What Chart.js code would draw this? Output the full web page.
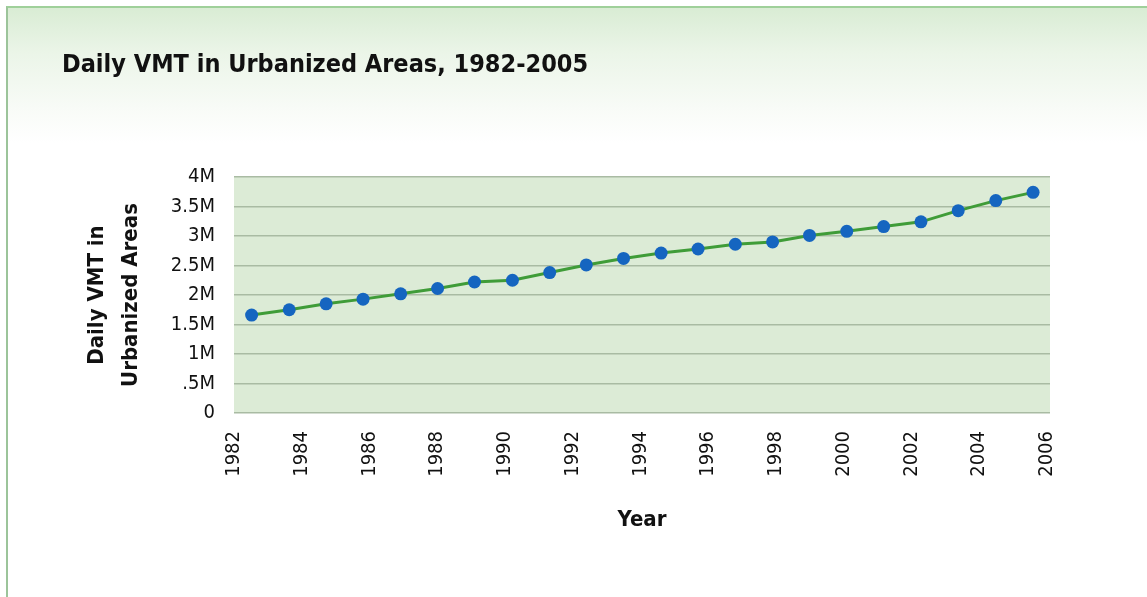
<!DOCTYPE html>
<html>
<head>
<meta charset="utf-8">
<title>Daily VMT in Urbanized Areas, 1982-2005</title>
<script src="https://cdn.jsdelivr.net/npm/chart.js@4"></script>
<style>
  html, body { margin: 0; padding: 0; background: #fff; }
  .card {
    position: relative;
    width: 1147px;
    height: 597px;
    overflow: hidden;
    background: #fff;
  }
  .card::before {
    content: '';
    position: absolute;
    left: 6px; top: 6px; right: -10px; bottom: -10px;
    border-top: 2px solid #9fd09a;
    border-left: 2px solid #9cc49a;
    background: linear-gradient(to bottom, #d9ecd4 0px, #ebf5e8 45px, #f8fbf7 100px, #ffffff 135px);
  }
  #vmtChart { position: absolute; left: 0; top: 0; }
</style>
</head>
<body>
<div class="card">
  <canvas id="vmtChart" width="1147" height="597"></canvas>
</div>
<script>
// years on the x axis
const yearTicks = [1982, 1984, 1986, 1988, 1990, 1992, 1994, 1996, 1998, 2000, 2002, 2004, 2006];

// where each point sits along the year axis
const pointYears = [
  1982.52, 1983.63, 1984.72, 1985.81, 1986.92, 1988.01, 1989.10, 1990.22,
  1991.32, 1992.40, 1993.50, 1994.61, 1995.70, 1996.80, 1997.90, 1998.99,
  2000.09, 2001.18, 2002.28, 2003.38, 2004.49, 2005.59
];

// daily VMT, millions
const vmtMillions = [
  1.66, 1.75, 1.85, 1.93, 2.02, 2.11, 2.22, 2.25,
  2.38, 2.51, 2.62, 2.71, 2.78, 2.86, 2.90, 3.01,
  3.08, 3.16, 3.24, 3.43, 3.60, 3.74
];

const vmtTicks = [0, 0.5, 1, 1.5, 2, 2.5, 3, 3.5, 4];
const vmtTickLabels = ['0', '.5M', '1M', '1.5M', '2M', '2.5M', '3M', '3.5M', '4M'];

const FONT = "'Liberation Sans Narrow', 'DejaVu Sans Condensed', 'Liberation Sans', sans-serif";

// pale green fill behind the plot
const plotBackground = {
  id: 'plotBackground',
  beforeDraw(chart) {
    const { ctx, chartArea: a } = chart;
    ctx.save();
    ctx.fillStyle = '#dcebd6';
    ctx.fillRect(a.left, a.top, a.right - a.left, a.bottom - a.top);
    ctx.restore();
  }
};

const ctx = document.getElementById('vmtChart');
new Chart(ctx, {
  type: 'line',
  data: {
    datasets: [{
      label: 'Daily VMT',
      data: pointYears.map((x, i) => ({ x: x, y: vmtMillions[i] })),
      borderColor: '#3f9c38',
      borderWidth: 3,
      pointBackgroundColor: '#1565c0',
      pointBorderWidth: 0,
      pointRadius: 6.5,
      tension: 0
    }]
  },
  options: {
    responsive: false,
    animation: false,
    layout: { padding: { left: 62, right: 97, top: 50, bottom: 64 } },
    plugins: {
      legend: { display: false },
      tooltip: { enabled: false },
      title: {
        display: true,
        text: 'Daily VMT in Urbanized Areas, 1982-2005',
        align: 'start',
        color: '#111',
        font: { family: FONT, size: 25, weight: 'bold', lineHeight: 1.2 },
        padding: { top: 0, bottom: 97 }
      }
    },
    scales: {
      x: {
        type: 'linear',
        min: 1982,
        max: 2006.09,
        afterBuildTicks: s => { s.ticks = yearTicks.map(v => ({ value: v })); },
        afterFit: s => { s.height = 597 - 64 - 413; },
        grid: { display: false, drawTicks: false },
        border: { display: false },
        ticks: {
          color: '#111',
          font: { family: FONT, size: 20 },
          minRotation: 90,
          maxRotation: 90,
          padding: 18,
          autoSkip: false,
          callback: v => String(v)
        },
        title: {
          display: true,
          text: 'Year',
          color: '#111',
          font: { family: FONT, size: 22, weight: 'bold', lineHeight: 1.2 },
          padding: 0
        }
      },
      y: {
        type: 'linear',
        min: 0,
        max: 4,
        afterBuildTicks: s => { s.ticks = vmtTicks.map(v => ({ value: v })); },
        afterFit: s => { s.width = 234 - 62; },
        grid: { color: '#a9bba3', lineWidth: 1.5, drawTicks: false },
        border: { display: false },
        ticks: {
          color: '#111',
          font: { family: FONT, size: 20 },
          padding: 19,
          callback: (v, i) => vmtTickLabels[i]
        },
        title: {
          display: true,
          text: ['Daily VMT in', 'Urbanized Areas'],
          color: '#111',
          font: { family: FONT, size: 22, weight: 'bold', lineHeight: 1.55 },
          padding: { top: 18, bottom: 0 }
        }
      }
    }
  },
  plugins: [plotBackground]
});
</script>
</body>
</html>
